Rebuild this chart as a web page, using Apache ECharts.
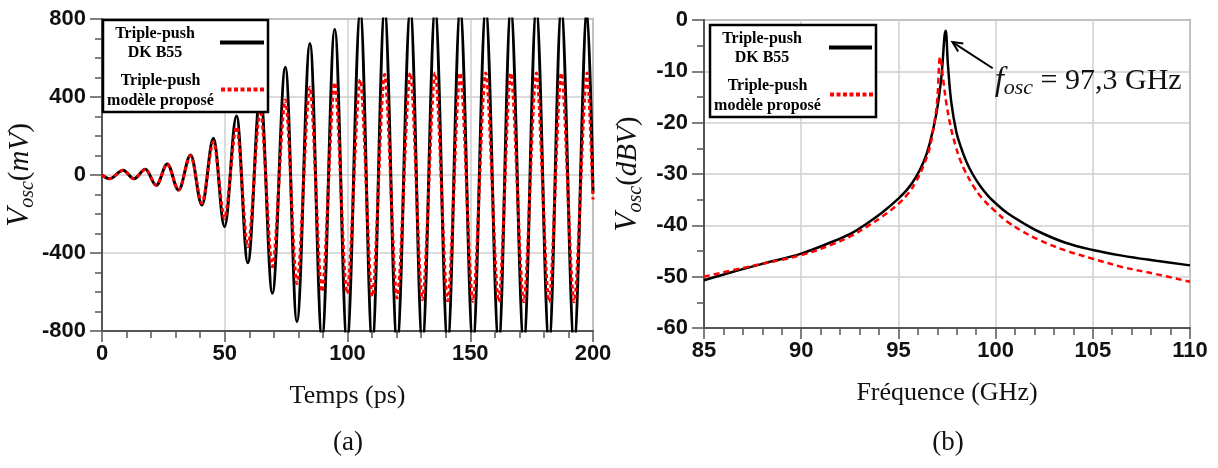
<!DOCTYPE html>
<html><head><meta charset="utf-8">
<script src="https://cdn.jsdelivr.net/npm/echarts@6/dist/echarts.min.js"></script>
<style>html,body{margin:0;padding:0;background:#fff}#c{width:1218px;height:468px}</style>
</head><body><div id="c"></div>
<script>
// ---- Panel (a): time-domain extrema (ps, mV) ----
const timePs = [0,3.1,8.6,13.0,17.7,22.1,26.6,31.2,36.1,40.7,45.4,49.9,54.8,59.4,64.5,69.4,74.7,79.4,84.7,89.6,94.8,99.8,105.2,110.1,115.1,120.2,125.6,130.5,135.7,140.8,145.9,151.1,156.3,161.6,166.5,171.8,176.9,182.1,187.1,192.3,197.6,200];
const vDK = [0,-19,24,-19,29,-53,56,-77,103,-154,188,-265,303,-450,420,-607,552,-752,675,-835,747,-850,830,-855,840,-855,840,-855,840,-855,840,-855,840,-855,840,-855,840,-855,840,-855,840,-90];
const vModel = [0,-19,24,-19,29,-53,56,-77,100,-145,171,-222,248,-368,333,-470,385,-556,450,-598,474,-607,489,-622,515,-631,523,-640,523,-645,523,-648,523,-650,523,-650,523,-650,523,-650,523,-126];
const timeTicks = {min: 0, max: 200, step: 50};
const voltTicks = {min: -800, max: 800, step: 400};

// ---- Panel (b): spectrum (GHz, dBV) ----
const freqDK = [85,86.45,88.2,90,91.6,92.6,93.4,94.2,95,95.5,95.9,96.3,96.6,96.95,97.2,97.43,97.55,97.72,97.98,98.2,98.5,98.8,99.18,99.6,100,100.6,101.4,102.26,103.6,105,106.5,108.26,110];
const dbDK = [-50.7,-49.1,-47.3,-45.5,-43.2,-41.5,-39.6,-37.4,-34.8,-32.8,-30.6,-27.6,-24.2,-18.3,-11.5,-2.1,-8.8,-16.0,-21.8,-24.6,-27.6,-29.9,-32.2,-34.2,-35.7,-37.6,-39.5,-41.3,-43.4,-44.8,-45.9,-46.9,-47.8];
const freqModel = [85,87,90,91.6,92.6,93.4,94.2,95,95.5,95.9,96.3,96.6,96.85,97.0,97.15,97.3,97.47,97.72,97.95,98.15,98.45,98.83,99.3,100,100.6,101.4,102.26,103.6,105,106.5,108.26,110];
const dbModel = [-50.0,-48.3,-45.8,-43.7,-42.0,-40.2,-38.2,-35.8,-33.8,-31.5,-28.3,-25.0,-20.0,-15.5,-7.2,-11.5,-16.3,-21.3,-24.6,-27.0,-29.6,-32.2,-34.7,-37.3,-39.3,-41.2,-42.9,-44.9,-46.5,-48.1,-49.5,-51.0];
const freqTicks = {min: 85, max: 110, step: 5};
const dbTicks = {min: -60, max: 0, step: 10};

const seriesNames = ['Triple-push DK B55', 'Triple-push modèle proposé'];
const fosc = 97.3;

const SANS = '"Liberation Sans", Arial, sans-serif';
const SERIF = '"Liberation Serif", "Times New Roman", serif';
const axisCol = '#555';

function xAx(grid, t, name, minorSplit) {
  return {
    type: 'value', gridIndex: grid, min: t.min, max: t.max, interval: t.step,
    axisLine: {show: true, onZero: false, lineStyle: {color: axisCol, width: 2}},
    axisTick: {show: true, length: 11, lineStyle: {color: axisCol, width: 1.5}},
    minorTick: {show: true, splitNumber: minorSplit, length: 7, lineStyle: {color: axisCol, width: 1.5}},
    splitLine: {show: true, lineStyle: {color: '#cfcfcf', width: 1.5}},
    axisLabel: {fontFamily: SANS, fontWeight: 'bold', fontSize: 22, color: '#111', margin: 12},
    name: name, nameLocation: 'middle', nameGap: 52,
    nameTextStyle: {fontFamily: SERIF, fontSize: 26, color: '#111'}
  };
}
function yAx(grid, t, name, minorSplit) {
  return {
    type: 'value', gridIndex: grid, min: t.min, max: t.max, interval: t.step,
    axisLine: {show: true, onZero: false, lineStyle: {color: axisCol, width: 2}},
    axisTick: {show: true, length: 12, lineStyle: {color: axisCol, width: 1.5}},
    minorTick: {show: true, splitNumber: minorSplit, length: 7, lineStyle: {color: axisCol, width: 1.5}},
    splitLine: {show: true, lineStyle: {color: '#cfcfcf', width: 1.5}},
    axisLabel: {fontFamily: SANS, fontWeight: 'bold', fontSize: 22, color: '#111', margin: 16},
    name: name, nameLocation: 'middle', nameRotate: 90, nameGap: 58,
    nameTextStyle: {
      color: '#111',
      rich: {
        v: {fontFamily: SERIF, fontStyle: 'italic', fontSize: 31, lineHeight: 36, color: '#111'},
        s: {fontFamily: SERIF, fontStyle: 'italic', fontSize: 20, lineHeight: 20, verticalAlign: 'bottom', color: '#111'},
        p: {fontFamily: SERIF, fontSize: 29, lineHeight: 36, color: '#111'},
        u: {fontFamily: SERIF, fontStyle: 'italic', fontSize: 29, lineHeight: 36, color: '#111'}
      }
    }
  };
}

const chart = echarts.init(document.getElementById('c'), null, {renderer: 'canvas'});
chart.setOption({
  animation: false,
  backgroundColor: '#fff',
  grid: [
    {left: 102, top: 19, width: 491, height: 312, show: true, borderColor: '#999', borderWidth: 2},
    {left: 704, top: 20, width: 486, height: 308, show: true, borderColor: '#999', borderWidth: 2}
  ],
  xAxis: [xAx(0, timeTicks, 'Temps (ps)', 5), xAx(1, freqTicks, 'Fréquence (GHz)', 5)],
  yAxis: [
    yAx(0, voltTicks, '{v|V}{s|osc}{p|(}{u|mV}{p|)}', 4),
    yAx(1, dbTicks, '{v|V}{s|osc}{p|(}{u|dBV}{p|)}', 2)
  ],
  series: [
    {name: seriesNames[0], type: 'line', xAxisIndex: 0, yAxisIndex: 0, showSymbol: false, smooth: 0.36, smoothMonotone: 'x',
     data: timePs.map((t, i) => [t, vDK[i]]), lineStyle: {color: '#000', width: 3}, z: 3},
    {name: seriesNames[1], type: 'line', xAxisIndex: 0, yAxisIndex: 0, showSymbol: false, smooth: 0.3, smoothMonotone: 'x',
     data: timePs.map((t, i) => [t, vModel[i]]), lineStyle: {color: '#ff0000', width: 3, type: [4, 3]}, z: 4},
    {name: seriesNames[0], type: 'line', xAxisIndex: 1, yAxisIndex: 1, showSymbol: false, smooth: 0.4,
     data: freqDK.map((f, i) => [f, dbDK[i]]), lineStyle: {color: '#000', width: 2.5}, z: 3},
    {name: seriesNames[1], type: 'line', xAxisIndex: 1, yAxisIndex: 1, showSymbol: false, smooth: 0.4,
     data: freqModel.map((f, i) => [f, dbModel[i]]), lineStyle: {color: '#ff0000', width: 2.5, type: [6, 4]}, z: 4}
  ]
});

function legendBox(x, y, w, h, cx1, cx2, lx1, lx2) {
  const font = {fontFamily: SERIF, fontWeight: 'bold', fontSize: 16, fill: '#000', align: 'center', verticalAlign: 'middle'};
  return [
    {type: 'rect', shape: {x: x, y: y, width: w, height: h}, style: {fill: '#fff', stroke: '#000', lineWidth: 2.5}, z: 100},
    {type: 'text', x: cx1, y: y + 14, style: Object.assign({text: 'Triple-push'}, font), z: 101},
    {type: 'text', x: cx1, y: y + 33, style: Object.assign({text: 'DK B55'}, font), z: 101},
    {type: 'line', shape: {x1: lx1, y1: y + 22.5, x2: lx2, y2: y + 22.5}, style: {stroke: '#000', lineWidth: 4}, z: 101},
    {type: 'text', x: cx2, y: y + 61, style: Object.assign({text: 'Triple-push'}, font), z: 101},
    {type: 'text', x: cx2, y: y + 81, style: Object.assign({text: 'modèle proposé'}, font), z: 101},
    {type: 'line', shape: {x1: lx1 + 1, y1: y + 69.5, x2: lx2 + 1, y2: y + 69.5}, style: {stroke: '#ff0000', lineWidth: 4, lineDash: [4, 2.5]}, z: 101}
  ];
}
const tip = chart.convertToPixel({gridIndex: 1}, [97.78, -4.3]);
const tail = chart.convertToPixel({gridIndex: 1}, [99.85, -9.4]);
const txt = chart.convertToPixel({gridIndex: 1}, [99.95, -12.0]);
const ang = Math.atan2(tail[1] - tip[1], tail[0] - tip[0]);
const ah = 11, aw = 0.45;
const head = [
  [tip[0] + ah * Math.cos(ang + aw), tip[1] + ah * Math.sin(ang + aw)],
  tip,
  [tip[0] + ah * Math.cos(ang - aw), tip[1] + ah * Math.sin(ang - aw)]
];
const cap = {fontFamily: SERIF, fontSize: 27, fill: '#111', align: 'center', verticalAlign: 'middle'};
chart.setOption({
  graphic: [].concat(
    legendBox(103, 20, 165, 92, 155, 160.5, 220, 264),
    legendBox(710, 25, 166, 92, 762, 767.5, 829, 872),
    [
      {type: 'line', shape: {x1: tip[0], y1: tip[1], x2: tail[0], y2: tail[1]}, style: {stroke: '#000', lineWidth: 2}, z: 100},
      {type: 'polyline', shape: {points: head}, style: {stroke: '#000', lineWidth: 2, fill: null}, z: 100},
      {type: 'text', x: txt[0], y: txt[1], z: 100, style: {
        text: '{f|f}{s|osc}{e| = ' + String(fosc).replace('.', ',') + ' GHz}', align: 'left', verticalAlign: 'middle',
        rich: {
          f: {fontFamily: SERIF, fontStyle: 'italic', fontSize: 33, lineHeight: 36, fill: '#111'},
          s: {fontFamily: SERIF, fontStyle: 'italic', fontSize: 22, lineHeight: 22, verticalAlign: 'bottom', fill: '#111'},
          e: {fontFamily: SERIF, fontSize: 30, lineHeight: 36, fill: '#111'}
        }}},
      {type: 'text', x: 348, y: 443, style: Object.assign({text: '(a)'}, cap)},
      {type: 'text', x: 948, y: 443, style: Object.assign({text: '(b)'}, cap)}
    ]
  )
});
</script></body></html>
